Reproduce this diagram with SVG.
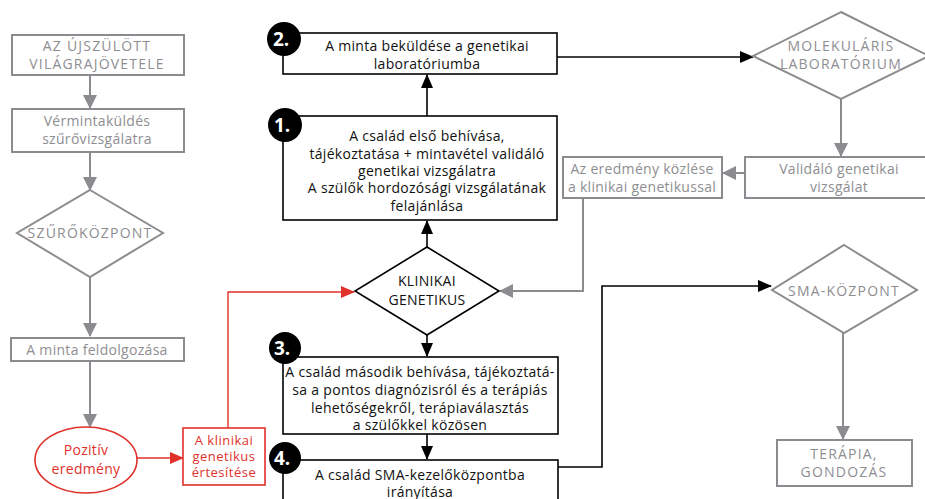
<svg xmlns="http://www.w3.org/2000/svg" width="925" height="499" viewBox="0 0 925 499">
<style>
text{font-family:"Open Sans","Liberation Sans",sans-serif;font-size:14px;letter-spacing:0.3px;text-anchor:middle}
.g{fill:#fff;stroke:#8c8c90;stroke-width:2}
.gt{fill:#8e8e92}
.up{letter-spacing:1.2px}
.k{fill:#fff;stroke:#000;stroke-width:1.6}
.kt{fill:#111}
.r{fill:#fff;stroke:#e0312b;stroke-width:1.6}
.rt{fill:#e0312b}
.rs{font-size:13px;letter-spacing:0.5px}
.badge{fill:#000}
.bt{fill:#fff;font-size:19px;font-weight:bold;text-anchor:start;letter-spacing:0}
.lg{fill:none;stroke:#8c8c90;stroke-width:2}
.lk{fill:none;stroke:#000;stroke-width:1.6}
.lr{fill:none;stroke:#e0312b;stroke-width:1.4}
</style>
<defs>
<marker id="ak" markerWidth="14" markerHeight="12" refX="13" refY="6" orient="auto" markerUnits="userSpaceOnUse" viewBox="0 0 14 12"><path d="M0,0 L14,6 L0,12 z" fill="#000"/></marker>
<marker id="ar" markerWidth="14" markerHeight="12" refX="13" refY="6" orient="auto" markerUnits="userSpaceOnUse" viewBox="0 0 14 12"><path d="M0,0 L14,6 L0,12 z" fill="#e0312b"/></marker>
<marker id="agb" markerWidth="14" markerHeight="14" refX="13" refY="7" orient="auto" markerUnits="userSpaceOnUse" viewBox="0 0 14 14"><path d="M0,0 L14,7 L0,14 z" fill="#8c8c90"/></marker>
</defs>
<rect width="925" height="499" fill="#fff"/>
<g id="connectors">
<path class="lg" d="M90,75 V108" marker-end="url(#agb)"/>
<path class="lg" d="M90,152 V190" marker-end="url(#agb)"/>
<path class="lg" d="M90,277 V336" marker-end="url(#agb)"/>
<path class="lg" d="M90,361 V427" marker-end="url(#agb)"/>
<path class="lr" d="M137,458 H183" marker-end="url(#ar)"/>
<path class="lr" d="M228,428 V292 H354" marker-end="url(#ar)"/>
<path class="lk" d="M427,247 V221" marker-end="url(#ak)"/>
<path class="lk" d="M427,116 V75" marker-end="url(#ak)"/>
<path class="lk" d="M557,57 H753" marker-end="url(#ak)"/>
<path class="lg" d="M841,99 V156" marker-end="url(#agb)"/>
<path class="lg" d="M745,173 H723" marker-end="url(#agb)"/>
<path class="lg" d="M583,198 V291 H500" marker-end="url(#agb)"/>
<path class="lk" d="M427,335 V356" marker-end="url(#ak)"/>
<path class="lk" d="M427,434 V459" marker-end="url(#ak)"/>
<path class="lk" d="M558,467 H602 V286 H771" marker-end="url(#ak)"/>
<path class="lg" d="M843,333 V439" marker-end="url(#agb)"/>
</g>
<g id="n-ujszulott"><rect class="g" x="12" y="35" width="172" height="40"/><text class="gt up" x="97" y="51">AZ ÚJSZÜLÖTT</text><text class="gt up" x="97" y="69">VILÁGRAJÖVETELE</text></g>
<g id="n-verminta"><rect class="g" x="12" y="109" width="172" height="43"/><text class="gt" x="97" y="126">Vérmintaküldés</text><text class="gt" x="97" y="144">szűrővizsgálatra</text></g>
<g id="n-szurokozpont"><polygon class="g" points="90,190 163,233 90,277 17,233"/><text class="gt up" x="90" y="238">SZŰRŐKÖZPONT</text></g>
<g id="n-feldolgozas"><rect class="g" x="11" y="338" width="173" height="23"/><text class="gt" x="97" y="355">A minta feldolgozása</text></g>
<g id="n-pozitiv"><ellipse class="r" cx="86" cy="460" rx="51" ry="33"/><text class="rt" x="86" y="455">Pozitív</text><text class="rt" x="86" y="474">eredmény</text></g>
<g id="n-ertesites"><rect class="r" x="183" y="428" width="82" height="57"/><text class="rt rs" x="224" y="445">A klinikai</text><text class="rt rs" x="224" y="461">genetikus</text><text class="rt rs" x="224" y="477">értesítése</text></g>
<g id="n-klinikai"><polygon class="k" points="427,247 499,291 427,335 355,291"/><text class="kt" x="427" y="286">KLINIKAI</text><text class="kt" x="427" y="305">GENETIKUS</text></g>
<g id="n-step1"><rect class="k" x="283" y="116" width="274" height="104"/><text class="kt" x="427" y="141">A család első behívása,</text><text class="kt" x="427" y="159">tájékoztatása + mintavétel validáló</text><text class="kt" x="427" y="176">genetikai vizsgálatra</text><text class="kt" x="427" y="193">A szülők hordozósági vizsgálatának</text><text class="kt" x="427" y="211">felajánlása</text>
<circle class="badge" cx="285" cy="125" r="17"/><text class="bt" x="274" y="132">1.</text></g>
<g id="n-step2"><rect class="k" x="283" y="33" width="274" height="41"/><text class="kt" x="427" y="51">A minta beküldése a genetikai</text><text class="kt" x="427" y="69">laboratóriumba</text>
<circle class="badge" cx="284" cy="39" r="17"/><text class="bt" x="273" y="46">2.</text></g>
<g id="n-step3"><rect class="k" x="283" y="357" width="275" height="77"/><text class="kt" x="420" y="377">A család második behívása, tájékoztatá-</text><text class="kt" x="420" y="395">sa a pontos diagnózisról és a terápiás</text><text class="kt" x="420" y="413">lehetőségekről, terápiaválasztás</text><text class="kt" x="420" y="430">a szülőkkel közösen</text>
<circle class="badge" cx="285" cy="348" r="16"/><text class="bt" x="274" y="355">3.</text></g>
<g id="n-step4"><rect class="k" x="283" y="460" width="275" height="45"/><text class="kt" x="420" y="480">A család SMA-kezelőközpontba</text><text class="kt" x="420" y="497">irányítása</text>
<circle class="badge" cx="285" cy="458" r="16"/><text class="bt" x="274" y="465">4.</text></g>
<g id="n-molekularis"><polygon class="g" points="841,12 929,56 841,99 753,56"/><text class="gt up" x="841" y="51">MOLEKULÁRIS</text><text class="gt up" x="841" y="69">LABORATÓRIUM</text></g>
<g id="n-validalo"><rect class="g" x="745" y="157" width="182" height="41"/><text class="gt" x="839" y="174">Validáló genetikai</text><text class="gt" x="839" y="192">vizsgálat</text></g>
<g id="n-kozles"><rect class="g" x="563" y="157" width="159" height="41"/><text class="gt" x="642" y="174">Az eredmény közlése</text><text class="gt" x="642" y="192">a klinikai genetikussal</text></g>
<g id="n-sma"><polygon class="g" points="844,245 917,290 844,333 772,290"/><text class="gt up" x="844" y="296">SMA-KÖZPONT</text></g>
<g id="n-terapia"><rect class="g" x="777" y="440" width="135" height="46"/><text class="gt up" x="844" y="459">TERÁPIA,</text><text class="gt up" x="844" y="477">GONDOZÁS</text></g>
</svg>
